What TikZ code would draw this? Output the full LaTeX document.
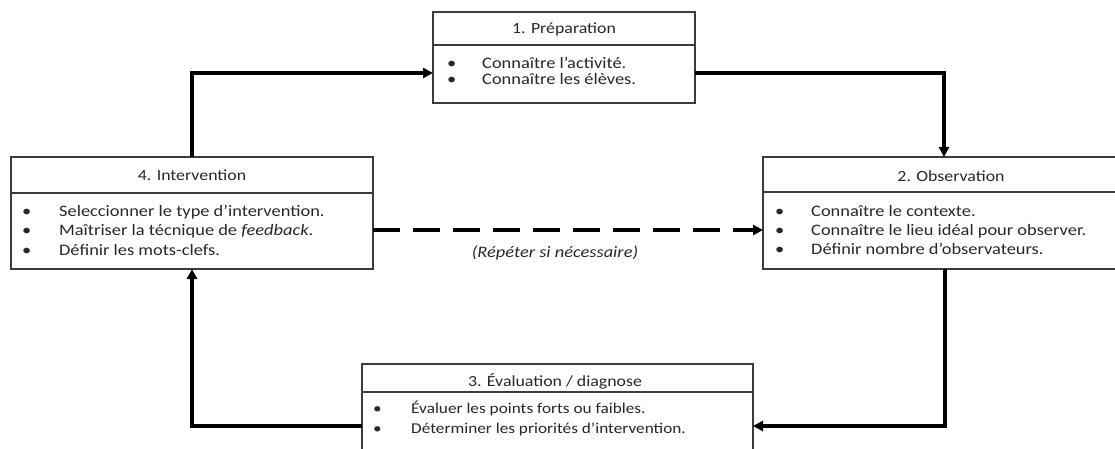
\documentclass[tikz,border=0pt]{standalone}
\usepackage{fontspec}
\setmainfont{Carlito}[FakeStretch=1.15]
\usetikzlibrary{arrows.meta}
\definecolor{boxgray}{RGB}{60,60,60}
\definecolor{txtgray}{RGB}{40,40,40}
\newcommand{\bl}[1]{\makebox[#1][l]{•}}
\tikzset{
  stagebox/.style={draw=boxgray, line width=1.2pt, rectangle, inner sep=0pt, outer sep=0pt, fill=white},
  divline/.style={draw=boxgray, line width=1.2pt},
  ttl/.style={font=\fontsize{15.5}{17}\selectfont, text=txtgray, anchor=base, inner sep=0pt},
  itm/.style={font=\fontsize{16}{18}\selectfont, text=txtgray, anchor=base west, inner sep=0pt},
  itmsmall/.style={itm, font=\fontsize{15}{17}\selectfont},
  flow/.style={line width=3.5pt, draw=black, -{Triangle[length=10pt,width=10pt]}},
  flowdash/.style={flow, dash pattern=on 27pt off 13pt},
  lbl/.style={font=\fontsize{16}{18}\selectfont\itshape, text=txtgray, anchor=base, inner sep=0pt}
}
\begin{document}
\begin{tikzpicture}[x=1pt,y=-1pt]
\useasboundingbox (0,0) rectangle (1115,449);
\clip (0,0) rectangle (1115,449);
% boxes
\node[stagebox, minimum width=262pt, minimum height=91pt] (b1) at (564,57.5) {};
\node[stagebox, minimum width=362pt, minimum height=112pt] (b4) at (192,213) {};
\node[stagebox, minimum width=353pt, minimum height=112pt] (b2) at (939.5,213) {};
\node[stagebox, minimum width=391pt, minimum height=88pt] (b3) at (557.5,408) {};
% header dividers
\draw[divline] (433,45) -- (695,45);
\draw[divline] (11,193) -- (373,193);
\draw[divline] (763,192) -- (1116,192);
\draw[divline] (362,392) -- (753,392);
% titles
\node[ttl] (t1) at (564,34) {1. Préparation};
\node[ttl] (t4) at (192,181) {4. Intervention};
\node[ttl] (t2) at (951,182) {2. Observation};
\node[ttl] (t3) at (555,386) {3. Évaluation / diagnose};
% items box 1
\node[itm] (i11) at (447,69) {\bl{35pt}Connaître l’activité.};
\node[itm] (i12) at (447,85) {\bl{35pt}Connaître les élèves.};
% items box 4
\node[itm] (i41) at (22,216) {\bl{37pt}Seleccionner le type d’intervention.};
\node[itm] (i42) at (22,235) {\bl{37pt}Maîtriser la técnique de \textit{feedback}.};
\node[itm] (i43) at (22,255) {\bl{37pt}Définir les mots-clefs.};
% items box 2
\node[itm] (i21) at (775,216) {\bl{36pt}Connaître le contexte.};
\node[itm] (i22) at (775,235) {\bl{36pt}Connaître le lieu idéal pour observer.};
\node[itm] (i23) at (775,254) {\bl{36pt}Définir nombre d’observateurs.};
% items box 3
\node[itmsmall] (i31) at (373,413) {\bl{38pt}Évaluer les points forts ou faibles.};
\node[itmsmall] (i32) at (373,433) {\bl{38pt}Déterminer les priorités d’intervention.};
% connectors
\draw[flow] (b4.north) |- ([yshift=-15.5pt]b1.west);
\draw[flow] ([yshift=-15.5pt]b1.east) -| ([xshift=4.5pt]b2.north);
\draw[flow] ([xshift=5.5pt]b2.south) |- ([yshift=-18pt]b3.east);
\draw[flow] ([yshift=-18pt]b3.west) -| (b4.south);
\draw[flowdash] ([yshift=-17pt]b4.east) -- ([yshift=-17pt]b2.west);
\node[lbl] (rep) at (555,257) {(Répéter si nécessaire)};
\end{tikzpicture}
\end{document}
